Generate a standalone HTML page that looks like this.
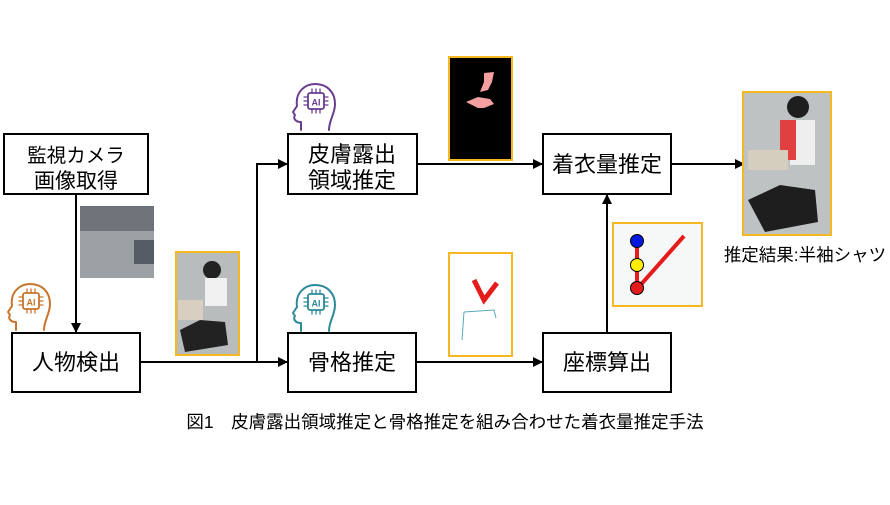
<!DOCTYPE html>
<html><head><meta charset="utf-8"><style>
body{margin:0;background:#fff;}
svg text{font-family:"Liberation Sans","Noto Sans CJK JP",sans-serif;}
</style></head><body>
<svg width="890" height="500" viewBox="0 0 890 500" xmlns="http://www.w3.org/2000/svg">
<defs><marker id="a" markerWidth="10" markerHeight="10" refX="9" refY="5" orient="auto" markerUnits="userSpaceOnUse"><path d="M0,0 L10,5 L0,10 z" fill="#000"/></marker>
<g id="head"><path d="M8,48 L8,40 C2,40 0,36 2,33 L0,30 L4,24 C2,10 12,2 22,2 C34,2 42,10 42,22 C42,32 36,38 36,48" fill="none" stroke-width="2"/><rect x="15" y="11" width="16" height="16" rx="2" fill="none" stroke-width="1.8"/><text x="23" y="23.5" font-size="9" text-anchor="middle" font-weight="bold" stroke="none">AI</text><path d="M11,15h4M11,19h4M11,23h4M31,15h4M31,19h4M31,23h4M19,7v4M23,7v4M27,7v4M19,27v4M23,27v4M27,27v4" stroke-width="1.3"/></g></defs>
<g fill="none" stroke="#000" stroke-width="2">
<rect x="4" y="134" width="144" height="60" fill="#fff"/>
<rect x="12" y="333" width="128" height="59" fill="#fff"/>
<rect x="288" y="134" width="129" height="60" fill="#fff"/>
<rect x="288" y="333" width="128" height="59" fill="#fff"/>
<rect x="543" y="134" width="128" height="60" fill="#fff"/>
<rect x="543" y="333" width="128" height="59" fill="#fff"/>
<path d="M76,194 V332" marker-end="url(#a)"/>
<path d="M140,362 H287" marker-end="url(#a)"/>
<path d="M257,362 V164 H287" marker-end="url(#a)"/>
<path d="M417,164 H542" marker-end="url(#a)"/>
<path d="M416,362 H542" marker-end="url(#a)"/>
<path d="M607,333 V195" marker-end="url(#a)"/>
<path d="M671,164 H744" marker-end="url(#a)"/>
</g>
<g font-size="22" text-anchor="middle" fill="#000">
<text x="76" y="162" font-size="19.5">監視カメラ</text><text x="76" y="188" font-size="21">画像取得</text>
<text x="76" y="370">人物検出</text>
<text x="352" y="162">皮膚露出</text><text x="352" y="188">領域推定</text>
<text x="352" y="370">骨格推定</text>
<text x="607" y="172">着衣量推定</text>
<text x="607" y="370">座標算出</text>
</g>
<text x="805" y="261" font-size="17.5" text-anchor="middle">推定結果:半袖シャツ</text>
<text x="445" y="428" font-size="17.5" text-anchor="middle">図1　皮膚露出領域推定と骨格推定を組み合わせた着衣量推定手法</text>
<!-- camera image -->
<rect x="80" y="206" width="74" height="72" fill="#9aa0a4"/>
<rect x="80" y="206" width="74" height="25" fill="#6d7378"/>
<rect x="134" y="240" width="20" height="24" fill="#555c66"/>
<!-- person image -->
<rect x="176" y="252" width="63" height="103" fill="#b9bcbd" stroke="#f5b820" stroke-width="2"/>
<rect x="178" y="300" width="25" height="20" fill="#d8cfc0"/>
<path d="M180,330 L200,320 L225,322 L228,345 L185,352 Z" fill="#222"/>
<circle cx="212" cy="270" r="9" fill="#222"/>
<rect x="205" y="278" width="22" height="28" fill="#f0f0f0"/>
<!-- mask -->
<rect x="449" y="57" width="63" height="103" fill="#000" stroke="#f5b820" stroke-width="2"/>
<path d="M484,73 L494,72 L492,82 L488,90 L480,92 L484,82 Z M478,97 L490,99 L494,104 L484,108 L478,108 L466,102 Z" fill="#f4a0a0"/>
<!-- skeleton -->
<rect x="449" y="253" width="63" height="103" fill="#fff" stroke="#f5b820" stroke-width="2"/>
<path d="M474,280 L484,300 L497,283" stroke="#e51c1c" stroke-width="5" fill="none"/>
<path d="M464,312 L494,310 L496,318 M464,312 L462,340" stroke="#5ab" stroke-width="1" fill="none"/>
<!-- crop -->
<rect x="613" y="223" width="89" height="83" fill="#f5f8f6" stroke="#f5b820" stroke-width="2"/>
<path d="M637,243 V289 L684,236" stroke="#e51c1c" stroke-width="4" fill="none"/>
<circle cx="637" cy="241" r="6.5" fill="#0018e0" stroke="#000"/>
<circle cx="637" cy="265" r="6.5" fill="#ffee00" stroke="#000"/>
<circle cx="637" cy="288" r="6.5" fill="#e51c1c" stroke="#000"/>
<!-- result -->
<rect x="743" y="92" width="88" height="143" fill="#bfc2c3" stroke="#f5b820" stroke-width="2"/>
<path d="M748,200 L780,185 L815,190 L818,222 L765,232 Z" fill="#1e1e1e"/>
<rect x="790" y="120" width="25" height="45" fill="#eeeeee"/>
<rect x="780" y="120" width="16" height="40" fill="#e04040"/>
<circle cx="798" cy="107" r="11" fill="#1e1e1e"/>
<rect x="748" y="150" width="40" height="20" fill="#d5cdbd"/>
<g fill="none" stroke-linecap="round" stroke-linejoin="round">
<use href="#head" x="8" y="282" stroke="#c8742c" fill="#c8742c"/>
<use href="#head" x="293" y="82" stroke="#6a3d8f" fill="#6a3d8f"/>
<use href="#head" x="293" y="283" stroke="#2a8a9a" fill="#2a8a9a"/>
</g>
</svg>
</body></html>
